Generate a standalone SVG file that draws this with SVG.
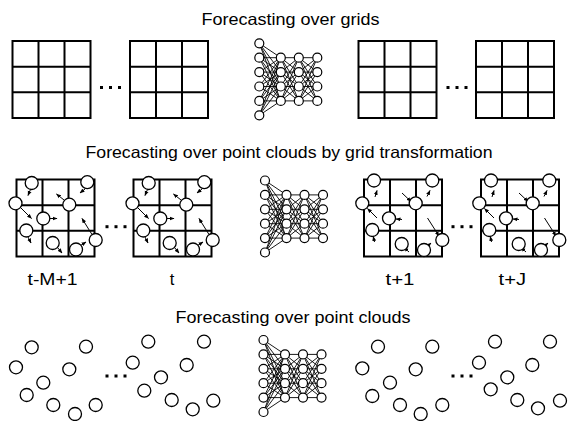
<svg xmlns="http://www.w3.org/2000/svg" xmlns:xlink="http://www.w3.org/1999/xlink" width="568" height="421" viewBox="0 0 568 421">
<style>
text{font-family:"Liberation Sans",Arial,sans-serif;font-size:16.5px;fill:#000;text-anchor:middle}
.grid{fill:none;stroke:#000;stroke-width:2}
.pt{fill:#fff;stroke:#000;stroke-width:1.3}
.nnl{fill:none;stroke:#000;stroke-width:0.9}
.nnc{fill:#fff;stroke:#000;stroke-width:1.2}
.arr{fill:none;stroke:#000;stroke-width:1;marker-end:url(#ah)}
.dot{fill:#000}
</style>
<defs>
<marker id="ah" viewBox="0 0 10 10" refX="9" refY="5" markerWidth="5" markerHeight="5" orient="auto" markerUnits="userSpaceOnUse"><path d="M0,1L10,5L0,9z" fill="#000"/></marker>
<g id="gridShape" class="grid"><rect x="0" y="0" width="78" height="77"/><path d="M26,0V77M52,0V77M0,25.67H78M0,51.33H78"/></g>
<g id="nn">
<path class="nnl" d="M0 0L21.5 14.4M0 0L21.5 28.8M0 0L21.5 43.2M0 0L21.5 57.6M0 14.4L21.5 14.4M0 14.4L21.5 28.8M0 14.4L21.5 43.2M0 14.4L21.5 57.6M0 28.8L21.5 14.4M0 28.8L21.5 28.8M0 28.8L21.5 43.2M0 28.8L21.5 57.6M0 43.2L21.5 14.4M0 43.2L21.5 28.8M0 43.2L21.5 43.2M0 43.2L21.5 57.6M0 57.6L21.5 14.4M0 57.6L21.5 28.8M0 57.6L21.5 43.2M0 57.6L21.5 57.6M0 72L21.5 14.4M0 72L21.5 28.8M0 72L21.5 43.2M0 72L21.5 57.6"/>
<path class="nnl" d="M21.5 14.4L39.5 14.4M21.5 14.4L39.5 28.8M21.5 14.4L39.5 43.2M21.5 14.4L39.5 57.6M21.5 28.8L39.5 14.4M21.5 28.8L39.5 28.8M21.5 28.8L39.5 43.2M21.5 28.8L39.5 57.6M21.5 43.2L39.5 14.4M21.5 43.2L39.5 28.8M21.5 43.2L39.5 43.2M21.5 43.2L39.5 57.6M21.5 57.6L39.5 14.4M21.5 57.6L39.5 28.8M21.5 57.6L39.5 43.2M21.5 57.6L39.5 57.6"/>
<path class="nnl" d="M39.5 14.4L58 14.4M39.5 14.4L58 28.8M39.5 14.4L58 43.2M39.5 14.4L58 57.6M39.5 28.8L58 14.4M39.5 28.8L58 28.8M39.5 28.8L58 43.2M39.5 28.8L58 57.6M39.5 43.2L58 14.4M39.5 43.2L58 28.8M39.5 43.2L58 43.2M39.5 43.2L58 57.6M39.5 57.6L58 14.4M39.5 57.6L58 28.8M39.5 57.6L58 43.2M39.5 57.6L58 57.6"/>
<g class="nnc">
<circle cx="0" cy="0" r="4.5"/><circle cx="0" cy="14.4" r="4.5"/><circle cx="0" cy="28.8" r="4.5"/><circle cx="0" cy="43.2" r="4.5"/><circle cx="0" cy="57.6" r="4.5"/><circle cx="0" cy="72" r="4.5"/>
<circle cx="21.5" cy="14.4" r="4.5"/><circle cx="21.5" cy="28.8" r="4.5"/><circle cx="21.5" cy="43.2" r="4.5"/><circle cx="21.5" cy="57.6" r="4.5"/>
<circle cx="39.5" cy="14.4" r="4.5"/><circle cx="39.5" cy="28.8" r="4.5"/><circle cx="39.5" cy="43.2" r="4.5"/><circle cx="39.5" cy="57.6" r="4.5"/>
<circle cx="58" cy="14.4" r="4.5"/><circle cx="58" cy="28.8" r="4.5"/><circle cx="58" cy="43.2" r="4.5"/><circle cx="58" cy="57.6" r="4.5"/>
</g>
</g>
<g id="dots" class="dot"><rect x="-1.5" y="-1.5" width="3" height="3"/><rect x="7.5" y="-1.5" width="3" height="3"/><rect x="16.5" y="-1.5" width="3" height="3"/></g>
<g id="pastPts">
<use xlink:href="#gridShape"/>
<g class="arr">
<path d="M14 10L11.5 16"/>
<path d="M68.5 9.5L63.5 13.5"/>
<path d="M4.5 28.5L15 39"/>
<path d="M47.5 20.5L40 14.5"/>
<path d="M33.5 39L40.5 39"/>
<path d="M11.5 57.5L14.5 63.5"/>
<path d="M41 68L45.5 73.5"/>
<path d="M64 66L69.5 62.5"/>
<path d="M75.5 55L65.5 39"/>
</g>
<g class="pt">
<circle cx="15.2" cy="3.5" r="6.5"/>
<circle cx="70.8" cy="2.7" r="6.5"/>
<circle cx="-1" cy="23.8" r="6.5"/>
<circle cx="52.8" cy="25.2" r="6.5"/>
<circle cx="26.8" cy="39" r="6.5"/>
<circle cx="9.8" cy="51" r="6.5"/>
<circle cx="36.2" cy="63.5" r="6.5"/>
<circle cx="59.5" cy="70" r="6.5"/>
<circle cx="79.2" cy="60.5" r="6.5"/>
</g>
</g>
<g id="futPts">
<use xlink:href="#gridShape"/>
<g class="arr">
<path d="M11 17.5L13 11"/>
<path d="M63 17L66 11"/>
<path d="M13 38.5L3.5 29"/>
<path d="M38 13.5L47 22"/>
<path d="M38 40L32 39.5"/>
<path d="M10.5 62.5L9.3 57"/>
<path d="M45 72.5L40 68"/>
<path d="M62.5 67.5L67 63.5"/>
<path d="M63.5 38.5L75 56.5"/>
</g>
<g class="pt">
<circle cx="10" cy="1" r="6.5"/>
<circle cx="68.3" cy="1" r="6.5"/>
<circle cx="-1.7" cy="23.8" r="6.5"/>
<circle cx="51.7" cy="23.8" r="6.5"/>
<circle cx="25" cy="38.8" r="6.5"/>
<circle cx="8.3" cy="50.5" r="6.5"/>
<circle cx="37.7" cy="64.5" r="6.5"/>
<circle cx="60" cy="70.5" r="6.5"/>
<circle cx="78.3" cy="60.5" r="6.5"/>
</g>
</g>
</defs>
<rect x="0" y="0" width="568" height="421" fill="#fff"/>

<g id="row1">
<text x="290.5" y="25" textLength="178" lengthAdjust="spacingAndGlyphs">Forecasting over grids</text>
<g id="grid-in-1"><use xlink:href="#gridShape" x="12.5" y="41"/></g>
<g id="grid-in-2"><use xlink:href="#gridShape" x="130" y="41"/></g>
<g id="nn-1"><use xlink:href="#nn" x="259.3" y="43.3"/></g>
<g id="grid-out-1"><use xlink:href="#gridShape" x="358.5" y="41"/></g>
<g id="grid-out-2"><use xlink:href="#gridShape" x="476" y="41"/></g>
<use xlink:href="#dots" x="101.5" y="87.5"/>
<use xlink:href="#dots" x="448" y="87.5"/>
</g>

<g id="row2">
<text x="289" y="158.3" textLength="407" lengthAdjust="spacingAndGlyphs">Forecasting over point clouds by grid transformation</text>
<g id="pc-grid-in-1"><use xlink:href="#pastPts" x="16.5" y="179.5"/></g>
<g id="pc-grid-in-2"><use xlink:href="#pastPts" x="133.5" y="179.5"/></g>
<g id="nn-2"><use xlink:href="#nn" x="265" y="180.5"/></g>
<g id="pc-grid-out-1"><use xlink:href="#futPts" x="364" y="179.5"/></g>
<g id="pc-grid-out-2"><use xlink:href="#futPts" x="481" y="179.5"/></g>
<use xlink:href="#dots" x="107" y="226.7"/>
<use xlink:href="#dots" x="453" y="226.7"/>
<text x="52.5" y="285" textLength="50" lengthAdjust="spacingAndGlyphs">t-M+1</text>
<text x="172" y="285">t</text>
<text x="400" y="285" textLength="29" lengthAdjust="spacingAndGlyphs">t+1</text>
<text x="512.3" y="285" textLength="27.5" lengthAdjust="spacingAndGlyphs">t+J</text>
</g>

<g id="row3">
<text x="293" y="323.3" textLength="235" lengthAdjust="spacingAndGlyphs">Forecasting over point clouds</text>
<g id="cloud-in-1" class="pt">
<circle cx="31.7" cy="347.3" r="6.5"/><circle cx="86" cy="346.7" r="6.5"/><circle cx="16" cy="367.3" r="6.5"/>
<circle cx="69.3" cy="369.3" r="6.5"/><circle cx="43.3" cy="382.7" r="6.5"/><circle cx="26.7" cy="395" r="6.5"/>
<circle cx="53.3" cy="405" r="6.5"/><circle cx="75" cy="414" r="6.5"/><circle cx="95.7" cy="405" r="6.5"/>
</g>
<g id="cloud-in-2" class="pt">
<circle cx="148.3" cy="341.7" r="6.5"/><circle cx="204" cy="341.7" r="6.5"/><circle cx="132.7" cy="362.7" r="6.5"/>
<circle cx="186.7" cy="365" r="6.5"/><circle cx="161" cy="377.3" r="6.5"/><circle cx="144.3" cy="390.7" r="6.5"/>
<circle cx="171.7" cy="400" r="6.5"/><circle cx="192.7" cy="409.3" r="6.5"/><circle cx="213.3" cy="400.7" r="6.5"/>
</g>
<g id="nn-3"><use xlink:href="#nn" x="263.5" y="340"/></g>
<g id="cloud-out-1" class="pt">
<circle cx="378" cy="346.7" r="6.5"/><circle cx="432.3" cy="346.7" r="6.5"/><circle cx="362.3" cy="368.3" r="6.5"/>
<circle cx="415.7" cy="369.3" r="6.5"/><circle cx="390" cy="382.7" r="6.5"/><circle cx="372.3" cy="396" r="6.5"/>
<circle cx="400" cy="405" r="6.5"/><circle cx="420.7" cy="414" r="6.5"/><circle cx="442.3" cy="405" r="6.5"/>
</g>
<g id="cloud-out-2" class="pt">
<circle cx="495" cy="341.7" r="6.5"/><circle cx="550" cy="341.7" r="6.5"/><circle cx="479" cy="362.7" r="6.5"/>
<circle cx="532.3" cy="365" r="6.5"/><circle cx="507.3" cy="377.3" r="6.5"/><circle cx="490.7" cy="389.3" r="6.5"/>
<circle cx="517.3" cy="400" r="6.5"/><circle cx="538" cy="408.3" r="6.5"/><circle cx="560" cy="400.7" r="6.5"/>
</g>
<use xlink:href="#dots" x="107" y="376"/>
<use xlink:href="#dots" x="453" y="376"/>
</g>
<g id="connectors"/>
</svg>
